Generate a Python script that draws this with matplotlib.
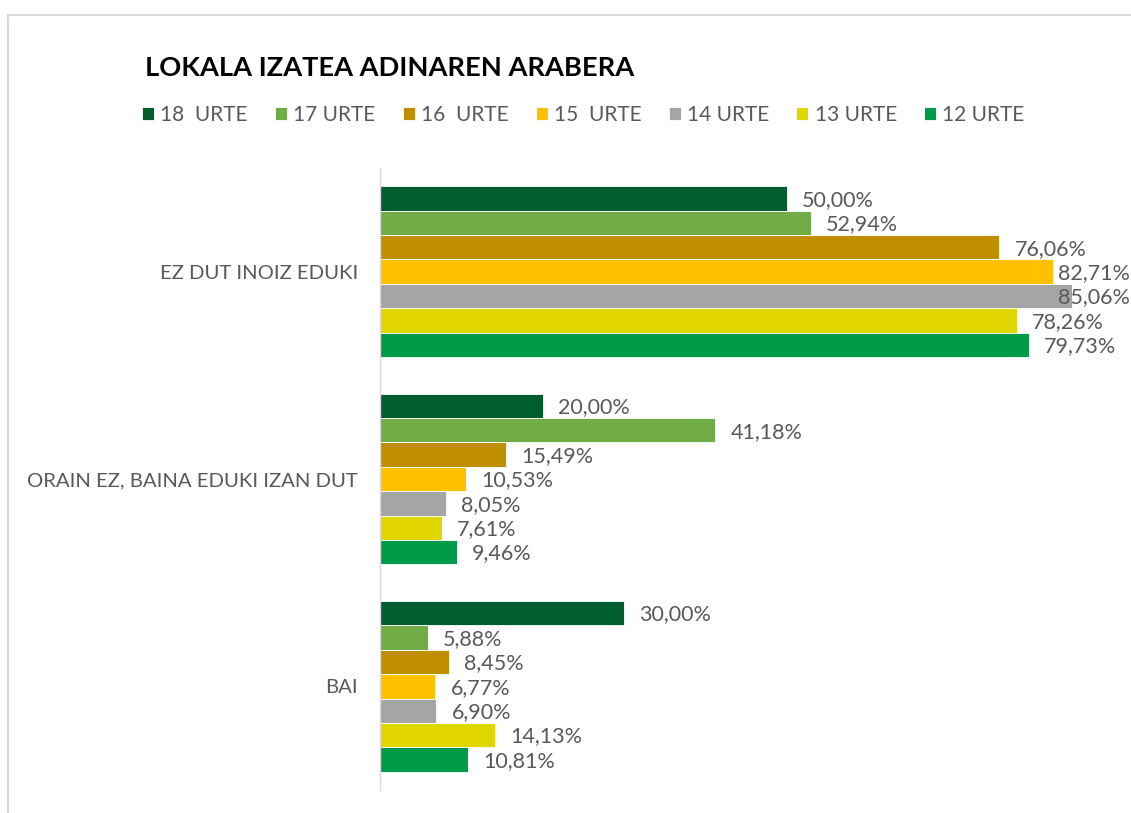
import matplotlib
matplotlib.use("Agg")
import matplotlib.pyplot as plt
from matplotlib.patches import Rectangle
import numpy as np

plt.rcParams['font.family'] = ['Lato', 'DejaVu Sans']

categories = ["EZ DUT INOIZ EDUKI", "ORAIN EZ, BAINA EDUKI IZAN DUT", "BAI"]
series_names = ["18  URTE", "17 URTE", "16  URTE", "15  URTE", "14 URTE", "13 URTE", "12 URTE"]
urte18 = [50.00, 20.00, 30.00]
urte17 = [52.94, 41.18, 5.88]
urte16 = [76.06, 15.49, 8.45]
urte15 = [82.71, 10.53, 6.77]
urte14 = [85.06, 8.05, 6.90]
urte13 = [78.26, 7.61, 14.13]
urte12 = [79.73, 9.46, 10.81]
series_values = [urte18, urte17, urte16, urte15, urte14, urte13, urte12]
colors = ["#005E2E", "#70AD47", "#BF8F00", "#FFC000", "#A5A5A5", "#E2D600", "#009A48"]
title = "LOKALA IZATEA ADINAREN ARABERA"

W, H = 1131, 813
fig = plt.figure(figsize=(W / 100, H / 100), dpi=100)

# chart frame (left and top border)
fig.patches.append(Rectangle((8 / W, -0.2), 1.5, 1.2 - 15 / H, transform=fig.transFigure,
                             facecolor='none', edgecolor='#D9D9D9', linewidth=1.5, zorder=0))

ax_left, ax_right = 380 / W, 1.0
ax_top, ax_bot = 1 - 168 / H, 1 - 790 / H
ax = fig.add_axes([ax_left, ax_bot, ax_right - ax_left, ax_top - ax_bot])

px_per_pct = 8.14
xmax = (W - 380) / px_per_pct
n = len(series_values)
bar_h = 1.0 / (n + 1.5)
y = np.arange(len(categories))
label_color = '#595959'

handles = []
labels = []
for i, (vals, col, name) in enumerate(zip(series_values, colors, series_names)):
    pos = y + (i - (n - 1) / 2) * bar_h
    bars = ax.barh(pos, vals, height=bar_h, color=col, edgecolor='white', linewidth=0.6,
                   label=name, zorder=2)
    handles.append(bars)
    for b, v in zip(bars, vals):
        t = ax.annotate(f"{v:.2f}%".replace('.', ','),
                        xy=(b.get_width(), b.get_y() + b.get_height() / 2),
                        xytext=(11, -1), textcoords='offset points',
                        ha='left', va='center', fontsize=15.5, color=label_color,
                        annotation_clip=False, zorder=3)
        labels.append((t, b))

ax.set_xlim(0, xmax)
ax.set_ylim(len(categories) - 0.5, -0.5)
ax.set_yticks(y)
ax.set_yticklabels(categories, fontsize=14.6, color=label_color)
ax.tick_params(axis='y', length=0, pad=16)
ax.set_xticks([])
for s in ['top', 'right', 'bottom']:
    ax.spines[s].set_visible(False)
ax.spines['left'].set_color('#D9D9D9')
ax.spines['left'].set_linewidth(1.0)
ax.set_facecolor('none')

fig.text(145 / W, 1 - 68 / H, title, fontsize=19.6, fontweight='bold', color='black',
         ha='left', va='center')

leg = fig.legend(handles=handles, labels=series_names, loc='center left',
                 bbox_to_anchor=(142 / W, 1 - 115 / H), ncol=7, frameon=False,
                 fontsize=15, handlelength=0.58, handleheight=0.58, handletextpad=0.3,
                 columnspacing=1.3, borderaxespad=0, borderpad=0)
for t in leg.get_texts():
    t.set_color(label_color)

# keep data labels that would run past the chart edge inside it (as Excel does)
fig.canvas.draw()
renderer = fig.canvas.get_renderer()
for t, b in labels:
    bb = t.get_window_extent(renderer)
    if bb.x1 > W - 1:
        t.xy = (xmax, b.get_y() + b.get_height() / 2)
        t.set_position((-1, -1))
        t.set_ha('right')

fig.savefig("out.png", dpi=100)
